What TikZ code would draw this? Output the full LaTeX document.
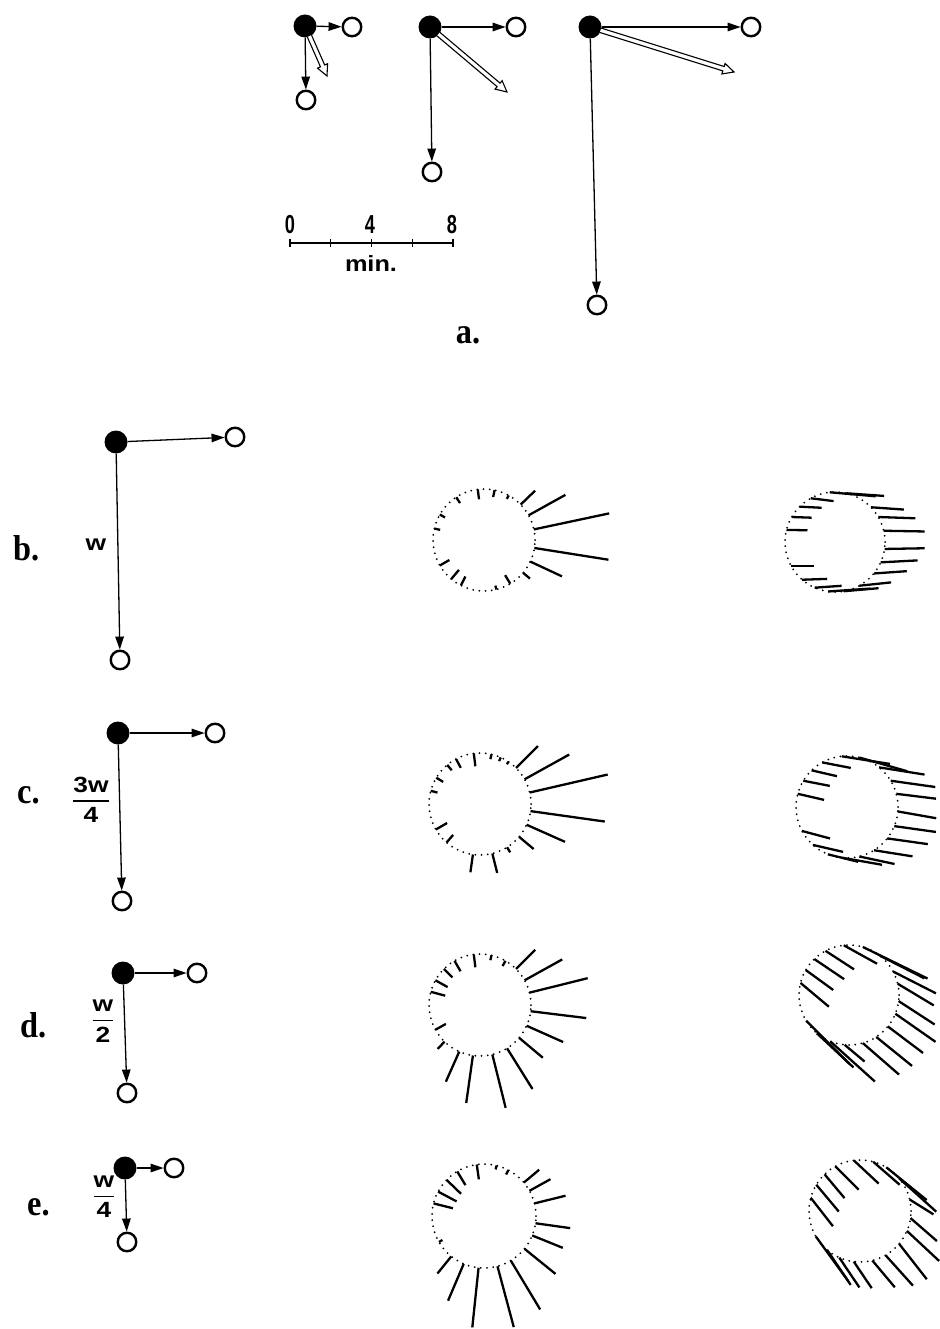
\documentclass[tikz,border=0pt]{standalone}
\usepackage{fontspec}
\usepackage{amsmath}
\usepackage{graphicx}
\setmainfont{Liberation Serif}
\setsansfont{Liberation Sans}
\usetikzlibrary{arrows.meta,calc}

\tikzset{
  dot/.style={circle, fill=black, minimum size=23pt, inner sep=0pt},
  ring/.style={circle, draw=black, fill=white, line width=2.4pt, minimum size=18.5pt, inner sep=0pt},
  vec/.style={line width=1.3pt, -{Triangle[length=13pt,width=8.5pt]}},
  hollowshaft/.style={line width=1.1pt, fill=white, line join=miter},
  dotring/.style={line width=2pt, line cap=round, dash pattern=on 0pt off 6.2pt},
  ray/.style={line width=2.3pt},
  panel/.style={font=\fontsize{36}{40}\selectfont\bfseries, anchor=base west, inner sep=0pt},
  lab/.style={font=\sffamily\bfseries\fontsize{22}{24}\selectfont, inner sep=0pt},
  digit/.style={font=\sffamily\bfseries\fontsize{26}{28}\selectfont, inner sep=0pt, anchor=base},
}

% open double-outlined vector from a node to a coordinate
\newcommand\hollowvec[2]{%
  \draw[hollowshaft] let \p1=($(#2)-(#1)$), \n1={atan2(\y1,\x1)}, \n2={veclen(\x1,\y1)} in
    [shift={(#1)}, rotate=\n1]
    (11pt,2.3pt) -- (\n2-11pt,2.3pt) -- (\n2-11pt,5.5pt) -- (\n2,0pt)
    -- (\n2-11pt,-5.5pt) -- (\n2-11pt,-2.3pt) -- (11pt,-2.3pt);}

% dotted contour with radial strokes (angle/signed length)
\newcommand\raypattern[3]{%
  \draw[dotring] (#1) circle[radius=#2pt];
  \foreach \a/\l in {#3} \draw[ray] (#1) ++(\a:#2) -- ++(\a:\l);}

% dotted contour with drift strokes (start angle/direction/length)
\newcommand\trackpattern[3]{%
  \draw[dotring] (#1) circle[radius=#2pt];
  \foreach \a/\p/\l in {#3} \draw[ray] (#1) ++(\a:#2) -- ++(\p:\l);}

\begin{document}
\begin{tikzpicture}[x=1pt, y=-1pt]
\useasboundingbox (0,0) rectangle (939,1329);

% ---------- a. three vector groups ----------
\node[dot]  (a1)  at (305,26) {};
\node[ring] (a1r) at (352,27) {};
\node[ring] (a1d) at (306,100) {};
\coordinate (a1h) at (327,76);
\draw[vec] (a1) -- (a1r);
\draw[vec] (a1) -- (a1d);
\hollowvec{a1}{a1h}

\node[dot]  (a2)  at (430,27) {};
\node[ring] (a2r) at (516,27) {};
\node[ring] (a2d) at (432,172) {};
\coordinate (a2h) at (507,92);
\draw[vec] (a2) -- (a2r);
\draw[vec] (a2) -- (a2d);
\hollowvec{a2}{a2h}

\node[dot]  (a3)  at (590,27) {};
\node[ring] (a3r) at (751,27) {};
\node[ring] (a3d) at (597,305) {};
\coordinate (a3h) at (734,72);
\draw[vec] (a3) -- (a3r);
\draw[vec] (a3) -- (a3d);
\hollowvec{a3}{a3h}

% scale bar
\coordinate (s0) at (290,243);
\coordinate (s8) at (453,243);
\draw[line width=1.5pt] (s0) -- (s8);
\foreach \k in {0,...,4} \draw[line width=1.3pt] ($(s0)!\k/4!(s8)$) ++(0,-4) -- ++(0,8);
\node[digit] (t0) at (290,234) {\scalebox{0.7}[1]{0}};
\node[digit] (t4) at (370,234) {\scalebox{0.7}[1]{4}};
\node[digit] (t8) at (452,234) {\scalebox{0.7}[1]{8}};
\node[lab, anchor=base] (unit) at (371,272) {\scalebox{1.15}[1]{min.}};

\node[panel, anchor=base] (la) at (468,343) {\scalebox{0.9}[1]{a.}};

% ---------- b. ----------
\node[panel] (lb) at (13,560) {\scalebox{0.9}[1]{b.}};
\node[dot]  (b)  at (116,442) {};
\node[ring] (br) at (235,437) {};
\node[ring] (bd) at (120,660) {};
\draw[vec] (b) -- (br);
\draw[vec] (b) -- (bd);
\node[lab, anchor=base] (bw) at (96,550) {\scalebox{1.2}[1]{w}};

% ---------- c. ----------
\node[panel] (lc) at (17,803) {\scalebox{0.9}[1]{c.}};
\node[dot]  (c)  at (118,733) {};
\node[ring] (cr) at (215,733) {};
\node[ring] (cd) at (122,901) {};
\draw[vec] (c) -- (cr);
\draw[vec] (c) -- (cd);
\node[lab] (cw) at (91,800) {\scalebox{1.2}[1]{$\genfrac{}{}{1.8pt}{0}{\text{3w}}{\text{4}}$}};

% ---------- d. ----------
\node[panel] (ld) at (20,1037) {\scalebox{0.9}[1]{d.}};
\node[dot]  (d)  at (123,973) {};
\node[ring] (dr) at (197,973) {};
\node[ring] (dd) at (127,1093) {};
\draw[vec] (d) -- (dr);
\draw[vec] (d) -- (dd);
\node[lab] (dw) at (103,1021) {\scalebox{1.2}[1]{$\genfrac{}{}{1.8pt}{0}{\text{w}}{\text{2}}$}};

% ---------- e. ----------
\node[panel] (le) at (27,1215) {\scalebox{0.9}[1]{e.}};
\node[dot]  (e)  at (125,1168) {};
\node[ring] (er) at (174,1168) {};
\node[ring] (ed) at (127,1242) {};
\draw[vec] (e) -- (er);
\draw[vec] (e) -- (ed);
\node[lab] (ew) at (104,1197) {\scalebox{1.2}[1]{$\genfrac{}{}{1.8pt}{0}{\text{w}}{\text{4}}$}};

% ---------- radial stroke patterns ----------
\coordinate (bM) at (484,540);
\coordinate (cM) at (480,804);
\coordinate (dM) at (480,1005);
\coordinate (eM) at (484,1216);
\raypattern{bM}{51}{-97/-10, -78/-7, -61/-4, -44/20, -29/42, -12/77, 9/75, 25/35, 40/9,
  59/-10, 76/-4, 117/-10, 130/-12, 150/-11, -167/-6, -150/-6, -123/-7}
\raypattern{cM}{51}{-97/-13, -77/-5, -66/-4, -56/-3, -45/31, -29/51, -13/80, 8/75, 24/42,
  40/19, 58/6, 76/20, 98/18, 131/-10, 150/-13, -165/-7, -149/-8, -130/-7, -118/-10}
\raypattern{dM}{51}{-97/-13, -77/-5, -60/-6, -120/-12, -135/-12, -151/-14, -165/-15,
  151/-12, 134/10, 114/33, 98/48, 76/55, 58/48, 40/31, 24/40, 7/56, -14/60, -29/43, -45/27}
\raypattern{eM}{52}{-98/-15, -76/-4, -62/-5, -121/-16, -136/-20, -152/-21, -166/-20,
  150/-4, 129/22, 113/40, 96/60, 75/63, 59/57, 39/40, 22/33, 8/35, -14/32, -29/24, -40/20}

% ---------- drift stroke patterns ----------
\coordinate (bR) at (835,542);
\coordinate (cR) at (847,807);
\coordinate (dR) at (849,995);
\coordinate (eR) at (860,1211);
\trackpattern{bR}{50}{-96/5/46, -77/4/38, -119/7/23, -135/3/22, -150/2/20, -166/1/21,
  151/0/23, 131/-2/25, 114/-4/27, 98/-4/42, 80/-5/35, 61/-6/32, 39/-4/33, 24/-3/37,
  8/-1/40, -13/1/41, -30/2/37, -44/4/33}
\trackpattern{cR}{51}{-96/9/49, -76/16/50, -51/9/46, -119/11/29, -134/13/26, -149/11/27,
  -165/13/27, -31/8/45, -15/7/40, 5/10/39, 22/8/42, 38/8/41, 58/9/39, 76/12/36, 95/10/40,
  112/14/31, 132/13/31, 152/15/29}
\trackpattern{dR}{50}{-118/33/34, -134/34/36, -150/36/34, -166/40/37, -96/29/38, -74/26/72,
  -52/27/50, -28/27/48, -13/31/42, 7/33/43, 22/35/49, 39/37/44, 57/39/46, 74/41/48,
  95/40/26, 112/42/60, 130/43/50, 149/45/61}
\trackpattern{eR}{51}{-134/50/31, -119/45/33, -97/43/34, -75/41/35, -59/39/52, -40/42/50,
  -149/50/35, -165/52/36, -13/32/28, 8/41/35, 23/43/44, 40/52/45, 60/48/41, 76/50/35,
  97/56/32, 114/56/36, 130/56/42, 150/54/55}
\end{tikzpicture}
\end{document}
